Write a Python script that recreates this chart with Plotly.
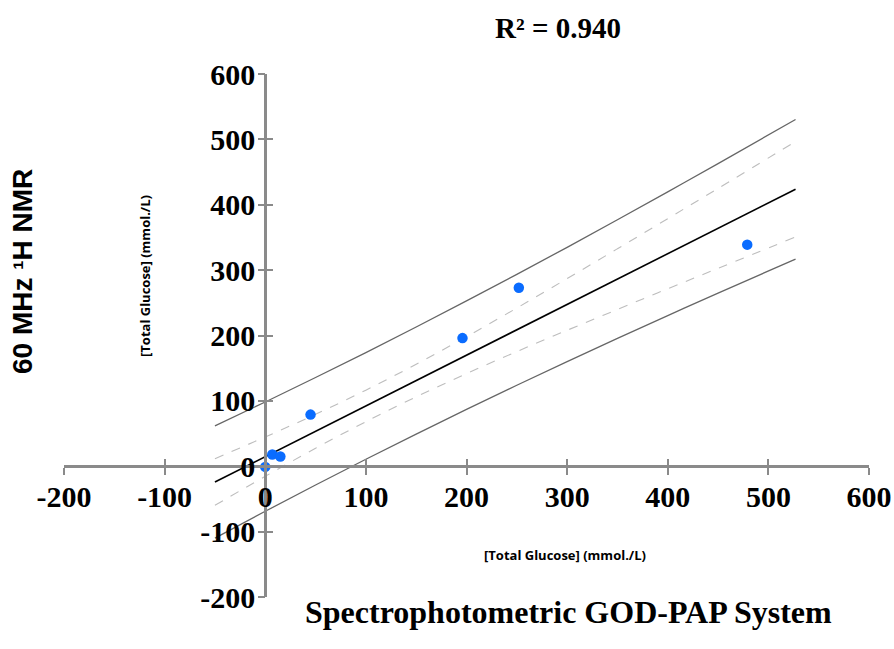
import plotly.graph_objects as go

# Data points
gp_x = [0, 7, 15, 45, 196, 252, 479]      # Spectrophotometric GOD-PAP (mmol/L)
nmr_y = [-1, 18, 15, 79, 196, 273, 339]    # 60 MHz 1H NMR (mmol/L)

# Regression line and 95% bands, read at sample x positions
band_x = [-50, 0, 50, 100, 150, 200, 250, 300, 350, 400, 450, 527]
fit_y = [-24.1, 14.7, 53.5, 92.3, 131.1, 169.9, 208.7, 247.5, 286.3, 325.1, 363.9, 423.7]
pred_upper = [61.7, 98.3, 135.7, 173.9, 213.0, 252.9, 293.5, 334.9, 377.0, 419.7, 463.0, 530.5]
pred_lower = [-109.9, -68.9, -28.7, 10.7, 49.2, 86.9, 123.9, 160.1, 195.6, 230.5, 264.8, 316.9]
conf_upper = [11.6, 44.8, 79.5, 116.4, 156.0, 198.1, 242.0, 287.0, 332.7, 378.7, 425.0, 496.7]
conf_lower = [-59.8, -15.4, 27.5, 68.2, 106.2, 141.7, 175.4, 208.0, 239.9, 271.5, 302.8, 350.7]

tick_vals = [-200, -100, 0, 100, 200, 300, 400, 500, 600]
tick_text = ["-200", "-100", "0", "100", "200", "300", "400", "500", "600"]
r2_text = "R² = 0.940"

fig = go.Figure()

for yy in (pred_upper, pred_lower):
    fig.add_trace(go.Scatter(x=band_x, y=yy, mode="lines", line=dict(color="#666666", width=1.3, shape="spline"),
                             hoverinfo="skip", showlegend=False))
for yy in (conf_upper, conf_lower):
    fig.add_trace(go.Scatter(x=band_x, y=yy, mode="lines", line=dict(color="#bdbdbd", width=1.1, dash="dash", shape="spline"),
                             hoverinfo="skip", showlegend=False))
fig.add_trace(go.Scatter(x=band_x, y=fit_y, mode="lines", line=dict(color="black", width=1.6),
                         hoverinfo="skip", showlegend=False))
fig.add_trace(go.Scatter(x=gp_x, y=nmr_y, mode="markers", marker=dict(color="#0a6cff", size=10.5),
                         showlegend=False))
# helper traces so the overlay axes (cross tick marks, tick labels) are drawn
for ax in ("2", "3"):
    fig.add_trace(go.Scatter(x=[0], y=[0], xaxis="x" + ax, yaxis="y" + ax, mode="markers",
                             marker=dict(opacity=0), hoverinfo="skip", showlegend=False))

tick_font = dict(family="Liberation Serif", size=30, color="black", weight="bold")
axis_col = "#8a8a8a"

common = dict(range=[-200, 600], tickvals=tick_vals, ticktext=tick_text, showgrid=False,
              zeroline=False, anchor="free", position=0.25, automargin=False)

fig.update_layout(
    width=894, height=649,
    margin=dict(l=64, r=25, t=74, b=52),
    paper_bgcolor="white", plot_bgcolor="white",
    xaxis=dict(**common, showline=True, linecolor=axis_col, linewidth=2.5,
               ticks="outside", ticklen=7, tickwidth=1.5, tickcolor=axis_col, showticklabels=False),
    yaxis=dict(**common, showline=True, linecolor=axis_col, linewidth=2.5,
               ticks="outside", ticklen=7, tickwidth=1.5, tickcolor=axis_col, showticklabels=False),
    xaxis2=dict(**common, overlaying="x", matches="x", showline=False,
                ticks="inside", ticklen=7, tickwidth=1.5, tickcolor=axis_col, showticklabels=False),
    yaxis2=dict(**common, overlaying="y", matches="y", showline=False,
                ticks="inside", ticklen=7, tickwidth=1.5, tickcolor=axis_col, showticklabels=False),
    xaxis3=dict(**common, overlaying="x", matches="x", showline=False, ticks="",
                tickfont=tick_font, ticklabelstandoff=10),
    yaxis3=dict(**common, overlaying="y", matches="y", showline=False, ticks="",
                tickfont=tick_font, ticklabelstandoff=10),
)

def ann(text, px, py, font, angle=0):
    fig.add_annotation(text=text, xref="paper", yref="paper",
                       x=(px - 64) / 805, y=(597 - py) / 523,
                       xanchor="center", yanchor="middle", showarrow=False,
                       textangle=angle, font=font)

ann(r2_text, 558, 28, dict(family="Liberation Serif", size=29, color="black", weight="bold"))
ann("Spectrophotometric GOD-PAP System", 568, 612, dict(family="Liberation Serif", size=32, color="black", weight="bold"))
ann("60 MHz ¹H NMR", 22, 272, dict(family="Liberation Sans", size=28, color="black", weight="bold"), angle=-90)
ann("[Total Glucose] (mmol./L)", 565, 555, dict(family="Open Sans", size=13, color="black", weight="bold"))
ann("[Total Glucose] (mmol./L)", 145, 276, dict(family="Open Sans", size=13, color="black", weight="bold"), angle=-90)

fig.write_html("out.html")
